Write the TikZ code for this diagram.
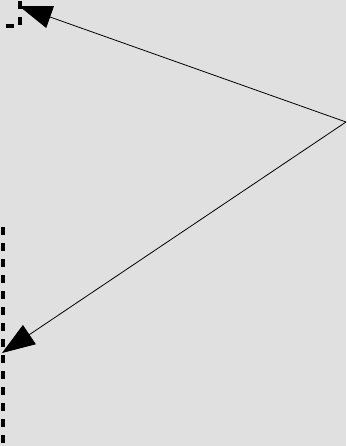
\documentclass[tikz,border=0pt]{standalone}
\usetikzlibrary{arrows.meta}
\definecolor{bgc}{HTML}{E0E0E0}
\tikzset{
  conn/.style={line width=0.8pt, -{Triangle[length=33pt,width=23pt]}},
  thickdash/.style={line width=4pt, dash pattern=on 8pt off 8pt},
}
\begin{document}
\begin{tikzpicture}[x=1pt,y=-1pt]
\fill[bgc] (0,0) rectangle (346,446);
\useasboundingbox (0,0) rectangle (346,446);
\coordinate (src) at (346,122);
\coordinate (t1) at (19,6);
\coordinate (t2) at (2,353);
\coordinate (c1) at (20,1);
\coordinate (c2) at (20,26.5);
\coordinate (c3) at (0,26.5);
\coordinate (v1) at (3,227);
\coordinate (v2) at (3,446);
\draw[thickdash] (c1) -- (c2) -- (c3);
\draw[thickdash] (v1) -- (v2);
\draw[conn] (src) -- (t1);
\draw[conn] (src) -- (t2);
\end{tikzpicture}
\end{document}
